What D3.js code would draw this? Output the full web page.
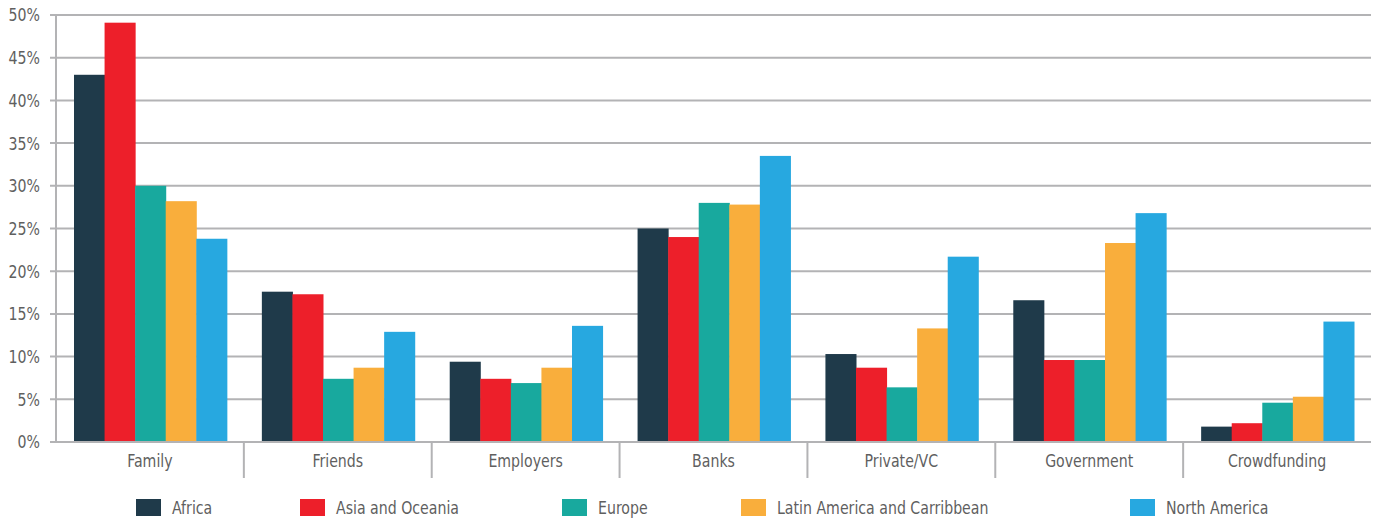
<!DOCTYPE html>
<html><head><meta charset="utf-8">
<script src="https://cdn.jsdelivr.net/npm/d3@7"></script>
<style>
body{margin:0;background:#fff;}
text{font-family:"DejaVu Sans Condensed","DejaVu Sans",sans-serif;fill:#5f5f5f;}
</style></head>
<body><svg id="c" width="1378" height="521"></svg>
<script>
const categories = ["Family","Friends","Employers","Banks","Private/VC","Government","Crowdfunding"];
const seriesNames = ["Africa","Asia and Oceania","Europe","Latin America and Carribbean","North America"];
const africa = [43.0,17.6,9.4,25.0,10.3,16.6,1.8];
const asiaOceania = [49.1,17.3,7.4,24.0,8.7,9.6,2.2];
const europe = [30.0,7.4,6.9,28.0,6.4,9.6,4.6];
const latinAmerica = [28.2,8.7,8.7,27.8,13.3,23.3,5.3];
const northAmerica = [23.8,12.9,13.6,33.5,21.7,26.8,14.1];
const yTicks = [0,5,10,15,20,25,30,35,40,45,50];
const colors = ["#1f3a4a","#ed1f2a","#18a99e","#f9ae3c","#27a8e0"];
const legendX = [136,300,562,741,1130];

const series = [africa,asiaOceania,europe,latinAmerica,northAmerica];
const svg = d3.select("#c");
const L=56, R=1371, T=15, B=442;
const FS=18.5, SX=0.85;
const x0 = d3.scaleBand().domain(categories).range([L,R]).paddingInner(0).paddingOuter(0);
const x1 = d3.scaleBand().domain(seriesNames).range([18, x0.bandwidth()-17]).padding(0);
const y = d3.scaleLinear().domain([0,50]).range([B,T]);

function label(sel, x, yy, anchor){
  return sel.append("text")
    .attr("transform", `translate(${x},${yy}) scale(${SX},1)`)
    .attr("dy","0.35em").attr("text-anchor",anchor).attr("font-size",FS);
}

svg.append("g").selectAll("line").data(yTicks).join("line")
  .attr("x1",L-6).attr("x2",R).attr("y1",d=>y(d)).attr("y2",d=>y(d))
  .attr("stroke","#b3b3b5").attr("stroke-width",2);

const yl = svg.append("g");
yTicks.forEach(t=>label(yl,40,y(t),"end").text(t+"%"));

const g = svg.append("g");
categories.forEach((c,ci)=>{
  seriesNames.forEach((s,si)=>{
    g.append("rect")
      .attr("x",x0(c)+x1(s)).attr("width",x1.bandwidth()+0.5)
      .attr("y",y(series[si][ci])).attr("height",y(0)-y(series[si][ci]))
      .attr("fill",colors[si]);
  });
});

svg.append("line").attr("x1",L).attr("x2",L).attr("y1",T).attr("y2",B+1)
  .attr("stroke","#b3b3b5").attr("stroke-width",2);
svg.append("line").attr("x1",L-6).attr("x2",R).attr("y1",B).attr("y2",B)
  .attr("stroke","#b3b3b5").attr("stroke-width",2);

const seps = categories.slice(1).map(c=>x0(c));
svg.append("g").selectAll("line").data(seps).join("line")
  .attr("x1",d=>d).attr("x2",d=>d).attr("y1",B).attr("y2",478)
  .attr("stroke","#b3b3b5").attr("stroke-width",2);

const cl = svg.append("g");
categories.forEach(c=>label(cl,x0(c)+x0.bandwidth()/2,461,"middle").text(c));

const lg = svg.append("g");
seriesNames.forEach((s,i)=>{
  lg.append("rect").attr("x",legendX[i]).attr("y",499).attr("width",25).attr("height",17).attr("fill",colors[i]);
  label(lg,legendX[i]+36,508,"start").text(s);
});
</script></body></html>
